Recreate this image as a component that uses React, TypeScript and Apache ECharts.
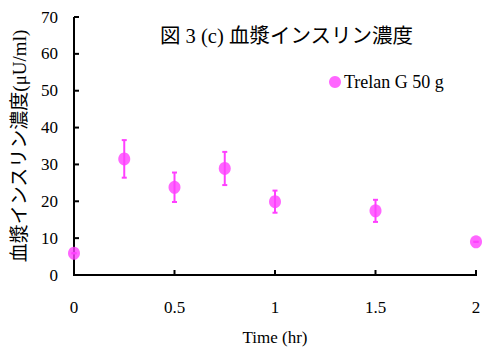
import React, { useEffect, useRef } from "react";
import * as echarts from "echarts";

const times = [0, 0.25, 0.5, 0.75, 1, 1.5, 2];
const means = [5.9, 31.5, 23.8, 28.9, 19.9, 17.4, 9.0];
const errors = [0, 5.1, 4.0, 4.5, 3.0, 3.0, 0];
const xTicks = [0, 0.5, 1, 1.5, 2];
const yTicks = [0, 10, 20, 30, 40, 50, 60, 70];
const seriesName = "Trelan G 50 g";
const titleText = "図 3 (c) 血漿インスリン濃度";
const yName = "血漿インスリン濃度(μU/ml)";
const xName = "Time (hr)";

const COLOR = "#FF40FF";
const FONT = "Liberation Serif, Times New Roman, Noto Sans CJK JP, serif";
const TICK_LEN = 5;

export default function App() {
  const ref = useRef<HTMLDivElement>(null);
  useEffect(() => {
    if (!ref.current) return;
    const chart = echarts.init(ref.current, null, { renderer: "svg" });
    const errData = times.map((t, i) => [t, means[i] - errors[i], means[i] + errors[i]]);
    const xMin = xTicks[0];
    const xMax = xTicks[xTicks.length - 1];
    const yMin = yTicks[0];
    const yMax = yTicks[yTicks.length - 1];
    chart.setOption({
      animation: false,
      title: {
        text: titleText,
        left: 160,
        top: 26,
        padding: 0,
        textStyle: { fontFamily: FONT, fontSize: 20.5, fontWeight: "normal", color: "#000" },
      },
      legend: {
        data: [{ name: seriesName, icon: "circle" }],
        left: 329,
        top: 73,
        itemWidth: 12,
        itemHeight: 12,
        itemGap: 4,
        padding: 0,
        textStyle: { fontFamily: FONT, fontSize: 18, color: "#000", padding: [0, 0, 0, -2] },
      },
      grid: { left: 74, right: 7, top: 17, bottom: 75, containLabel: false, outerBoundsMode: "none" },
      xAxis: {
        type: "value",
        min: xMin,
        max: xMax,
        interval: 0.5,
        name: xName,
        nameLocation: "middle",
        nameGap: 54,
        nameTextStyle: { fontFamily: FONT, fontSize: 17, color: "#000" },
        axisLine: { show: false },
        axisTick: { show: false },
        axisLabel: { fontFamily: FONT, fontSize: 17, color: "#000", margin: 24 },
        splitLine: { show: false },
      },
      yAxis: {
        type: "value",
        min: yMin,
        max: yMax,
        interval: 10,
        name: yName,
        nameLocation: "middle",
        nameGap: 45,
        nameTextStyle: { fontFamily: FONT, fontSize: 19, color: "#000" },
        axisLine: { show: false },
        axisTick: { show: false },
        axisLabel: { fontFamily: FONT, fontSize: 17, color: "#000", margin: 16 },
        splitLine: { show: false },
      },
      series: [
        {
          type: "custom",
          name: "xAxisLine",
          silent: true,
          z: 1,
          renderItem: (params: any, api: any) => {
            const p = api.coord([api.value(0), api.value(1)]);
            const cs = params.coordSys;
            const children: any[] = [
              { type: "line", shape: { x1: p[0], y1: p[1], x2: p[0], y2: p[1] - TICK_LEN }, style: { stroke: "#000000", lineWidth: 2 } },
            ];
            if (params.dataIndex === 0) {
              children.push({
                type: "line",
                shape: { x1: cs.x - 1, y1: cs.y + cs.height, x2: cs.x + cs.width + 1, y2: cs.y + cs.height },
                style: { stroke: "#000000", lineWidth: 2 },
              });
            }
            return { type: "group", children };
          },
          data: xTicks.map((v) => [v, yMin]),
        },
        {
          type: "custom",
          name: "yAxisLine",
          silent: true,
          z: 1,
          renderItem: (params: any, api: any) => {
            const p = api.coord([api.value(0), api.value(1)]);
            const cs = params.coordSys;
            const children: any[] = [
              { type: "line", shape: { x1: p[0], y1: p[1], x2: p[0] + TICK_LEN, y2: p[1] }, style: { stroke: "#000000", lineWidth: 2 } },
            ];
            if (params.dataIndex === 0) {
              children.push({
                type: "line",
                shape: { x1: cs.x, y1: cs.y, x2: cs.x, y2: cs.y + cs.height + 1 },
                style: { stroke: "#000000", lineWidth: 2 },
              });
            }
            return { type: "group", children };
          },
          data: yTicks.map((v) => [xMin, v]),
        },
        {
          type: "custom",
          name: "err",
          silent: true,
          z: 1,
          renderItem: (params: any, api: any) => {
            const x = api.value(0);
            const lo = api.coord([x, api.value(1)]);
            const hi = api.coord([x, api.value(2)]);
            const hw = 2.5;
            const style = { stroke: COLOR, lineWidth: 2 };
            return {
              type: "group",
              children: [
                { type: "line", shape: { x1: lo[0], y1: lo[1], x2: hi[0], y2: hi[1] }, style },
                { type: "line", shape: { x1: lo[0] - hw, y1: lo[1], x2: lo[0] + hw, y2: lo[1] }, style },
                { type: "line", shape: { x1: hi[0] - hw, y1: hi[1], x2: hi[0] + hw, y2: hi[1] }, style },
              ],
            };
          },
          data: errData,
        },
        {
          type: "scatter",
          name: seriesName,
          z: 2,
          symbol: "circle",
          symbolSize: [12, 13],
          itemStyle: { color: COLOR },
          data: times.map((t, i) => [t, means[i]]),
        },
      ],
    });
    return () => chart.dispose();
  }, []);
  return <div ref={ref} style={{ width: 483, height: 350, position: "absolute", left: 0, top: 0 }} />;
}
